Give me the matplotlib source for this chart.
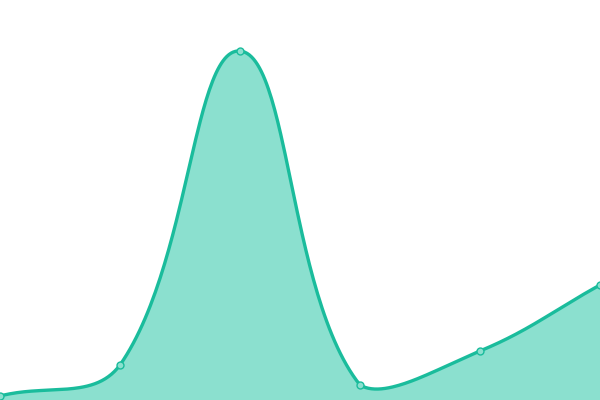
#Imports
import numpy as np
import matplotlib.pyplot as plt

#Data (one value per category, chart height 400)
labels = ["A", "B", "C", "D", "E", "F"]
values = [4, 35, 349, 15, 49, 115]

#Style parameters
line_color = "#1abc9c"
fill_color = "#8be0cf"
tension = 0.4
width_px, height_px = 600, 400

#Control points like a tension spline (distances measured in pixels)
xs = np.arange(len(values)) * width_px / (len(values) - 1)
ys = np.array(values, dtype=float)
pts = np.column_stack([xs, ys])

def controls(i):
    p0 = pts[max(i - 1, 0)]
    p1 = pts[i]
    p2 = pts[min(i + 1, len(pts) - 1)]
    d01 = np.hypot(*(p1 - p0))
    d12 = np.hypot(*(p2 - p1))
    tot = d01 + d12
    s01 = d01 / tot if tot else 0
    s12 = d12 / tot if tot else 0
    prev = p1 - tension * s01 * (p2 - p0)
    nxt = p1 + tension * s12 * (p2 - p0)
    prev[1] = np.clip(prev[1], 0, height_px)
    nxt[1] = np.clip(nxt[1], 0, height_px)
    return prev, nxt

ctrl = [controls(i) for i in range(len(pts))]
t = np.linspace(0, 1, 60)[:, None]
curve = []
for i in range(len(pts) - 1):
    a, b = pts[i], ctrl[i][1]
    c, d = ctrl[i + 1][0], pts[i + 1]
    seg = (1 - t)**3 * a + 3 * (1 - t)**2 * t * b + 3 * (1 - t) * t**2 * c + t**3 * d
    curve.append(seg if i == 0 else seg[1:])
curve = np.vstack(curve)
cx = curve[:, 0] * (len(values) - 1) / width_px
cy = curve[:, 1]

#Plotting
fig = plt.figure(figsize=(6, 4), dpi=100)
ax = fig.add_axes([0, 0, 1, 1])
ax.fill_between(cx, 0, cy, color=fill_color, lw=0, zorder=1)
ax.plot(cx, cy, color=line_color, lw=2.4, solid_capstyle="round", zorder=2, clip_on=False)
ax.plot(np.arange(len(values)), values, "o", ms=5, mfc=fill_color, mec=line_color, mew=1,
        zorder=3, clip_on=False)

ax.set_xlim(0, len(values) - 1)
ax.set_ylim(0, height_px)
ax.axis("off")

fig.savefig("out.png", dpi=100)
